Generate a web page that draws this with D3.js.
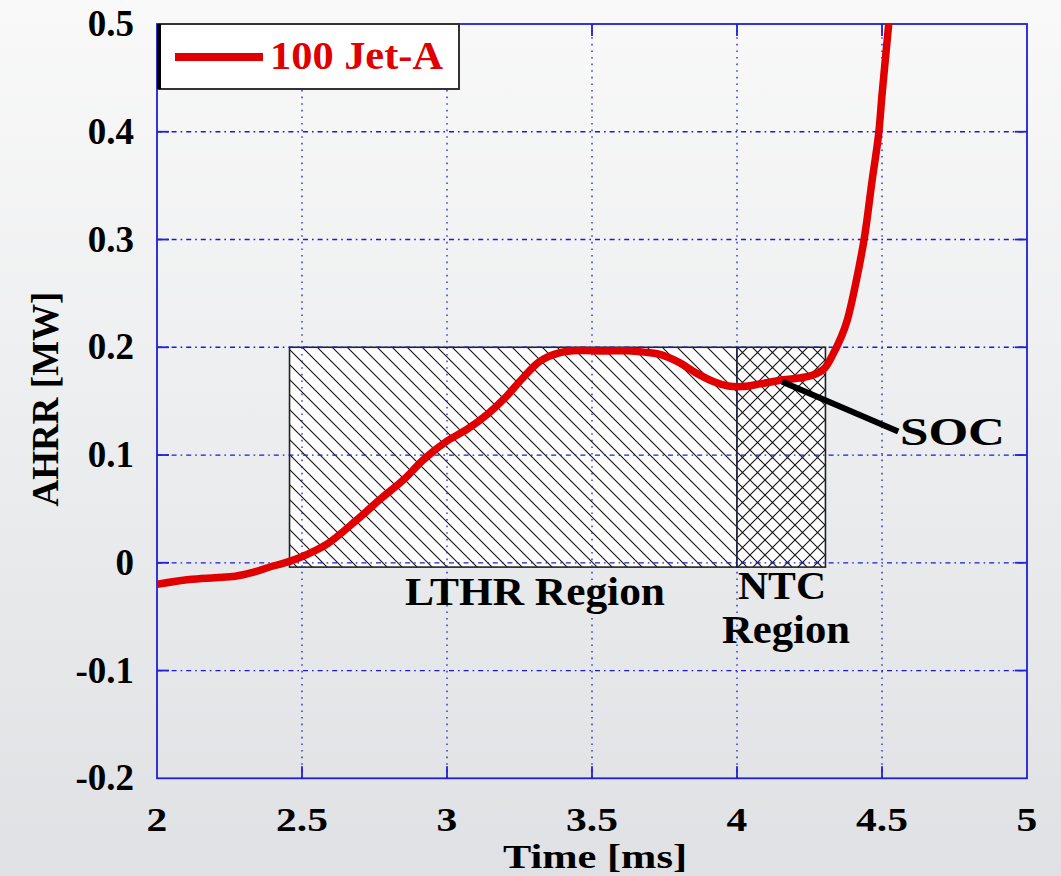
<!DOCTYPE html>
<html>
<head>
<meta charset="utf-8">
<script src="https://cdn.jsdelivr.net/npm/d3@7"></script>
<style>
  html, body { margin: 0; padding: 0; }
  body { width: 1061px; height: 876px; overflow: hidden; }
  svg text { font-family: "Liberation Serif", "Times New Roman", serif; font-weight: bold; }
</style>
</head>
<body>
<svg id="chart" width="1061" height="876"></svg>
<script>
// ---- Data ----
const timeMs = [2.00, 2.11, 2.20, 2.27, 2.33, 2.40, 2.46, 2.52, 2.59, 2.69, 2.77, 2.85, 2.92, 3.00, 3.07, 3.14, 3.20, 3.26, 3.32, 3.39, 3.46, 3.54, 3.62, 3.68, 3.74, 3.80, 3.86, 3.92, 3.97, 4.02, 4.08, 4.14, 4.20, 4.26, 4.30, 4.33, 4.36, 4.38, 4.41, 4.44, 4.465, 4.488, 4.50, 4.515, 4.525];
const ahrrMW = [-0.020, -0.0155, -0.0138, -0.0125, -0.009, -0.003, 0.0015, 0.008, 0.018, 0.040, 0.059, 0.077, 0.096, 0.113, 0.124, 0.138, 0.153, 0.171, 0.187, 0.195, 0.197, 0.1965, 0.1968, 0.1955, 0.193, 0.186, 0.176, 0.168, 0.164, 0.1635, 0.166, 0.169, 0.171, 0.174, 0.180, 0.193, 0.210, 0.225, 0.260, 0.303, 0.353, 0.397, 0.434, 0.477, 0.505];
const xTicks = [2, 2.5, 3, 3.5, 4, 4.5, 5];
const yTicks = [-0.2, -0.1, 0, 0.1, 0.2, 0.3, 0.4, 0.5];
const regionNames = ["LTHR", "NTC"];
const regionStart = [2.457, 4.0];
const regionEnd = [4.0, 4.305];
const regionLow = -0.004, regionHigh = 0.2;
const socPoint = [4.156, 0.168];
const socLabelPoint = [4.556, 0.1218];
const seriesName = "100 Jet-A";

// ---- Layout ----
const svg = d3.select("#chart");
const W = 1061, H = 876;
const x = d3.scaleLinear().domain([2, 5]).range([157, 1027]);
const y = d3.scaleLinear().domain([-0.2, 0.5]).range([778.3, 24]);

const defs = svg.append("defs");
const bg = defs.append("linearGradient").attr("id", "bg").attr("x1", 0).attr("y1", 0).attr("x2", 0).attr("y2", 1);
bg.append("stop").attr("offset", "0%").attr("stop-color", "#f9f9f9");
bg.append("stop").attr("offset", "100%").attr("stop-color", "#dfe1e4");

const s = 15;
const hatch = defs.append("pattern").attr("id", "hatch").attr("patternUnits", "userSpaceOnUse")
  .attr("width", s).attr("height", s);
hatch.append("rect").attr("width", s).attr("height", s).attr("fill", "#fff");
hatch.append("path").attr("d", `M0,0L${s},${s}M-3,${s-3}L3,${s+3}M${s-3},-3L${s+3},3`)
  .attr("stroke", "#111").attr("stroke-width", 1.1);
const cross = defs.append("pattern").attr("id", "cross").attr("patternUnits", "userSpaceOnUse")
  .attr("width", s).attr("height", s);
cross.append("rect").attr("width", s).attr("height", s).attr("fill", "#fff");
cross.append("path").attr("d", `M0,0L${s},${s}M-3,${s-3}L3,${s+3}M${s-3},-3L${s+3},3M0,${s}L${s},0M-3,3L3,-3M${s-3},${s+3}L${s+3},${s-3}`)
  .attr("stroke", "#111").attr("stroke-width", 1.1);

defs.append("clipPath").attr("id", "plotclip").append("rect")
  .attr("x", x(2)).attr("y", y(0.5)).attr("width", x(5) - x(2)).attr("height", y(-0.2) - y(0.5));

svg.append("rect").attr("width", W).attr("height", H).attr("fill", "url(#bg)");

// Regions
svg.selectAll("rect.region").data(regionNames).join("rect")
  .attr("class", "region")
  .attr("x", (d, i) => x(regionStart[i]))
  .attr("width", (d, i) => x(regionEnd[i]) - x(regionStart[i]))
  .attr("y", y(regionHigh))
  .attr("height", y(regionLow) - y(regionHigh))
  .attr("fill", (d, i) => i === 0 ? "url(#hatch)" : "url(#cross)")
  .attr("stroke", "#222").attr("stroke-width", 1.6);

// Grid
const gridColor = "#1a1ad6";
const grid = svg.append("g");
grid.selectAll("line.gx").data(xTicks.slice(1, -1)).join("line")
  .attr("x1", d => x(d)).attr("x2", d => x(d)).attr("y1", y(0.5)).attr("y2", y(-0.2))
  .attr("stroke", gridColor).attr("stroke-width", 1.3).attr("stroke-dasharray", "1.6,5");
grid.selectAll("line.gy").data(yTicks.slice(1, -1)).join("line")
  .attr("y1", d => y(d)).attr("y2", d => y(d)).attr("x1", x(2)).attr("x2", x(5))
  .attr("stroke", gridColor).attr("stroke-width", 1.3).attr("stroke-dasharray", "5,4,1.6,4");

// Frame + ticks
const frameColor = "#1f1fd8";
svg.append("rect").attr("x", x(2)).attr("y", y(0.5)).attr("width", x(5) - x(2)).attr("height", y(-0.2) - y(0.5))
  .attr("fill", "none").attr("stroke", frameColor).attr("stroke-width", 1.8);
const tl = 12;
const ticks = svg.append("g").attr("stroke", frameColor).attr("stroke-width", 1.8);
xTicks.slice(1, -1).forEach(t => {
  ticks.append("line").attr("x1", x(t)).attr("x2", x(t)).attr("y1", y(-0.2)).attr("y2", y(-0.2) - tl);
  ticks.append("line").attr("x1", x(t)).attr("x2", x(t)).attr("y1", y(0.5)).attr("y2", y(0.5) + tl);
});
yTicks.slice(1, -1).forEach(t => {
  ticks.append("line").attr("y1", y(t)).attr("y2", y(t)).attr("x1", x(2)).attr("x2", x(2) + tl);
  ticks.append("line").attr("y1", y(t)).attr("y2", y(t)).attr("x1", x(5)).attr("x2", x(5) - tl);
});

// Tick labels
const xl = svg.append("g").selectAll("text").data(xTicks).join("text")
  .attr("x", d => x(d)).attr("y", 831)
  .attr("text-anchor", "middle").attr("font-size", 34).attr("fill", "#000")
  .text(d => d3.format("")(d));
xl.each(function () { const L = this.getComputedTextLength(); d3.select(this).attr("textLength", L * 1.22).attr("lengthAdjust", "spacingAndGlyphs"); });
svg.append("g").selectAll("text").data(yTicks).join("text")
  .attr("x", 134).attr("y", d => y(d) + 12)
  .attr("text-anchor", "end").attr("font-size", 37).attr("fill", "#000")
  .text(d => d === 0 ? "0" : d3.format(".1f")(d).replace("−", "-"));

// Axis titles
svg.append("text").attr("x", 503).attr("y", 868)
  .attr("font-size", 34).attr("textLength", 184).attr("lengthAdjust", "spacingAndGlyphs").text("Time [ms]");
svg.append("text").attr("transform", "translate(58,399) rotate(-90)").attr("text-anchor", "middle")
  .attr("font-size", 37).text("AHRR [MW]");

// Curve
const line = d3.line().x((d, i) => x(timeMs[i])).y(d => y(d)).curve(d3.curveCatmullRom.alpha(0.5));
svg.append("path").datum(ahrrMW).attr("clip-path", "url(#plotclip)")
  .attr("d", line).attr("fill", "none").attr("stroke", "#e00000").attr("stroke-width", 7.5)
  .attr("stroke-linejoin", "round");

// SOC annotation
svg.append("line").attr("x1", x(socPoint[0])).attr("y1", y(socPoint[1]))
  .attr("x2", x(socLabelPoint[0])).attr("y2", y(socLabelPoint[1]))
  .attr("stroke", "#000").attr("stroke-width", 6);
svg.append("text").attr("x", 900).attr("y", 445).attr("font-size", 40)
  .attr("textLength", 105).attr("lengthAdjust", "spacingAndGlyphs").text("SOC");

// Region labels
svg.append("text").attr("x", 405).attr("y", 605).attr("font-size", 40)
  .attr("textLength", 260).attr("lengthAdjust", "spacingAndGlyphs").text("LTHR Region");
svg.append("text").attr("x", 738).attr("y", 599).attr("font-size", 40)
  .attr("textLength", 88).attr("lengthAdjust", "spacingAndGlyphs").text("NTC");
svg.append("text").attr("x", 722).attr("y", 643).attr("font-size", 40)
  .attr("textLength", 128).attr("lengthAdjust", "spacingAndGlyphs").text("Region");

// Legend
const lg = svg.append("g");
lg.append("rect").attr("x", 159).attr("y", 24).attr("width", 300).attr("height", 65)
  .attr("fill", "#fff").attr("stroke", "#333").attr("stroke-width", 2);
lg.append("line").attr("x1", 159).attr("x2", 159).attr("y1", 24).attr("y2", 89)
  .attr("stroke", "#000").attr("stroke-width", 4);
lg.append("line").attr("x1", 175).attr("x2", 263).attr("y1", 57).attr("y2", 57)
  .attr("stroke", "#e00000").attr("stroke-width", 8);
lg.append("text").attr("x", 270).attr("y", 69).attr("font-size", 40).attr("fill", "#e00000")
  .attr("textLength", 173).attr("lengthAdjust", "spacingAndGlyphs").text(seriesName);
</script>
</body>
</html>
